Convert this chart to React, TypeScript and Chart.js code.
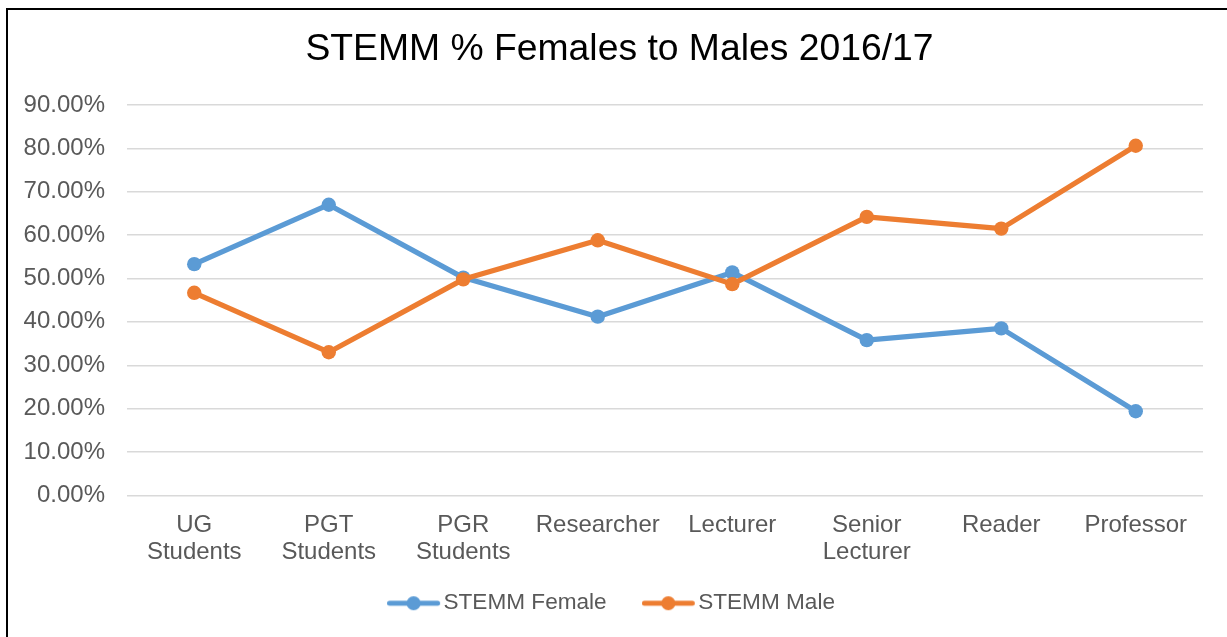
import React, { useEffect, useRef } from "react";
import { Chart, registerables } from "chart.js";

Chart.register(...registerables);

const chartTitle = "STEMM % Females to Males 2016/17";
const categories: string[][] = [
  ["UG", "Students"],
  ["PGT", "Students"],
  ["PGR", "Students"],
  ["Researcher"],
  ["Lecturer"],
  ["Senior", "Lecturer"],
  ["Reader"],
  ["Professor"],
];
const categoryKeys = ["UG Students", "PGT Students", "PGR Students", "Researcher", "Lecturer", "Senior Lecturer", "Reader", "Professor"];
const seriesNames = ["STEMM Female", "STEMM Male"];
const femaleValues = [53.3, 67.0, 50.2, 41.2, 51.4, 35.8, 38.5, 19.4];
const maleValues = [46.7, 33.0, 49.8, 58.8, 48.7, 64.2, 61.5, 80.6];
const yTickLabels = ["0.00%", "10.00%", "20.00%", "30.00%", "40.00%", "50.00%", "60.00%", "70.00%", "80.00%", "90.00%"];
const yMin = 0;
const yMax = 90;
const yStep = 10;

const BLUE = "#5B9BD5";
const ORANGE = "#ED7D31";
const FONT = "'Liberation Sans', Arial, Helvetica, sans-serif";

function makeLegendSymbol(color: string): HTMLCanvasElement {
  const c = document.createElement("canvas");
  c.width = 62;
  c.height = 16;
  const ctx = c.getContext("2d")!;
  ctx.strokeStyle = color;
  ctx.lineWidth = 5;
  ctx.lineCap = "round";
  ctx.beginPath();
  ctx.moveTo(2.5, 8);
  ctx.lineTo(50.5, 8);
  ctx.stroke();
  ctx.fillStyle = color;
  ctx.beginPath();
  ctx.arc(26.5, 8, 7, 0, Math.PI * 2);
  ctx.fill();
  return c;
}

// Lets the legend sit closer to the category axis than Chart.js' box stacking allows
// (its top padding area overlaps the empty lower part of the axis box).
const legendNudge = {
  id: "legendNudge",
  afterLayout(chart: any) {
    const lg = chart.legend;
    const x = chart.scales.x;
    if (!lg || !x) return;
    const h = lg.height;
    lg.top = x.top + 44.5;
    lg.bottom = lg.top + h;
  },
};

export default function App() {
  const ref = useRef<HTMLCanvasElement | null>(null);

  useEffect(() => {
    if (!ref.current) return;
    const symbols = [makeLegendSymbol(BLUE), makeLegendSymbol(ORANGE)];
    const chart = new Chart(ref.current, {
      type: "line",
      data: {
        labels: categoryKeys,
        datasets: [
          {
            label: seriesNames[0],
            data: femaleValues,
            borderColor: BLUE,
            backgroundColor: BLUE,
            pointBackgroundColor: BLUE,
            pointBorderWidth: 0,
            pointRadius: 7.2,
            borderWidth: 5.2,
            borderCapStyle: "round",
            borderJoinStyle: "round",
            tension: 0,
            order: 1,
          },
          {
            label: seriesNames[1],
            data: maleValues,
            borderColor: ORANGE,
            backgroundColor: ORANGE,
            pointBackgroundColor: ORANGE,
            pointBorderWidth: 0,
            pointRadius: 7.2,
            borderWidth: 5.2,
            borderCapStyle: "round",
            borderJoinStyle: "round",
            tension: 0,
            order: 0,
          },
        ],
      },
      plugins: [legendNudge],
      options: {
        responsive: false,
        animation: false,
        layout: { padding: { left: 15, right: 31, top: 0, bottom: 0 } },
        plugins: {
          title: {
            display: true,
            text: chartTitle,
            color: "#000000",
            font: { family: FONT, size: 37.3, weight: "normal", lineHeight: 1.2 },
            padding: { top: 17.6, bottom: 32.6 },
          },
          legend: {
            position: "bottom",
            labels: {
              usePointStyle: true,
              pointStyleWidth: 28.2,
              padding: 52,
              color: "#595959",
              font: { family: FONT, size: 22.6 },
              sort: (a: any, b: any) => a.datasetIndex - b.datasetIndex,
              generateLabels: (ch: any) => {
                const items = Chart.defaults.plugins.legend.labels.generateLabels(ch);
                return items.map((it: any) => ({
                  ...it,
                  pointStyle: symbols[it.datasetIndex],
                }));
              },
            },
          },
          tooltip: { enabled: false },
        },
        scales: {
          x: {
            offset: true,
            grid: { display: false, drawTicks: false, offset: true },
            border: { display: false },
            ticks: {
              color: "#595959",
              font: { family: FONT, size: 24, lineHeight: 1.1 },
              padding: 17,
              maxRotation: 0,
              autoSkip: false,
              callback: function (_value: any, index: number) {
                return categories[index];
              },
            },
            afterFit: (scale: any) => {
              scale.height = 71;
            },
          },
          y: {
            min: yMin,
            max: yMax,
            grid: { color: "#d9d9d9", lineWidth: 1.5, drawTicks: false },
            border: { display: false },
            ticks: {
              stepSize: yStep,
              color: "#595959",
              font: { family: FONT, size: 24 },
              padding: 22,
              callback: function (_value: any, index: number) {
                return yTickLabels[index];
              },
            },
            afterFit: (scale: any) => {
              scale.width = 104;
            },
          },
          yRight: {
            position: "right",
            display: true,
            grid: { display: false, drawTicks: false },
            border: { display: false },
            ticks: { display: false },
            afterFit: (scale: any) => {
              scale.width = 13;
            },
          },
        },
      },
    });
    return () => chart.destroy();
  }, []);

  return (
    <div
      style={{
        position: "fixed",
        left: 6,
        top: 8,
        right: 0,
        bottom: 0,
        borderLeft: "2px solid #000",
        borderTop: "2px solid #000",
        overflow: "hidden",
        background: "#fff",
      }}
    >
      <canvas
        ref={ref}
        width={1239}
        height={641}
        style={{ position: "absolute", left: 0, top: 0, display: "block" }}
      />
    </div>
  );
}
